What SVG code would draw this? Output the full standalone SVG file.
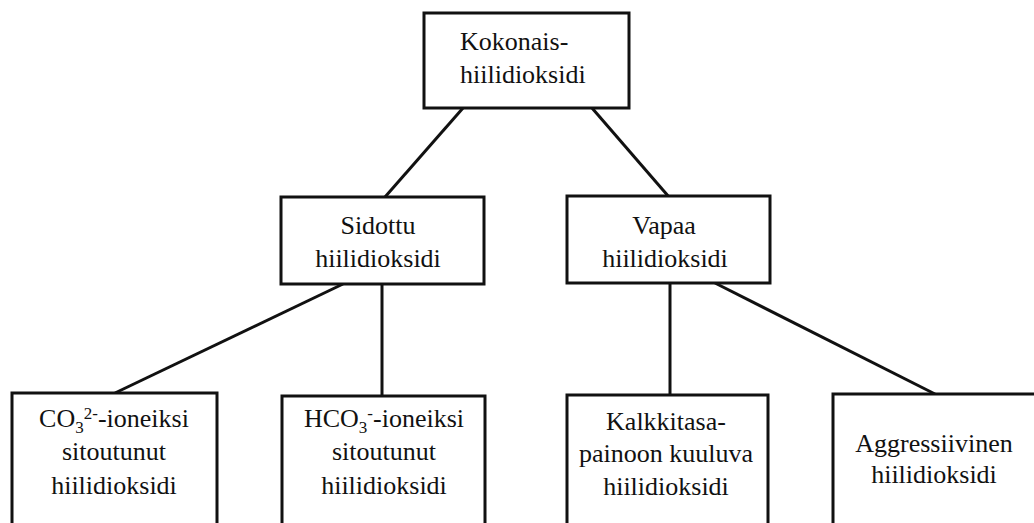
<svg xmlns="http://www.w3.org/2000/svg" width="1034" height="523" viewBox="0 0 1034 523">
<style>
.box{fill:#fff;stroke:#111;stroke-width:3}
.ln{stroke:#111;stroke-width:3;fill:none}
text{font-family:'Liberation Serif','Times New Roman','DejaVu Serif',serif;font-size:26px;fill:#111}
.c{text-anchor:middle}
.sub{font-size:17px}
</style>
<rect width="1034" height="523" fill="#fff"/>
<g id="connectors">
<line class="ln" x1="463" y1="108" x2="385" y2="197"/>
<line class="ln" x1="592" y1="108" x2="669" y2="197"/>
<line class="ln" x1="343" y1="284" x2="115" y2="393"/>
<line class="ln" x1="382" y1="284" x2="382" y2="396"/>
<line class="ln" x1="670" y1="283" x2="670" y2="395"/>
<line class="ln" x1="715" y1="283" x2="935" y2="394"/>
</g>
<g id="n-kokonais" font-family="Liberation Serif, serif">
<rect class="box" x="424" y="13" width="205" height="95"/>
<text x="460" y="50">Kokonais-</text>
<text x="460" y="83">hiilidioksidi</text>
</g>
<g id="n-sidottu">
<rect class="box" x="281" y="197" width="203" height="87"/>
<text class="c" x="378" y="234">Sidottu</text>
<text class="c" x="378" y="267">hiilidioksidi</text>
</g>
<g id="n-vapaa">
<rect class="box" x="567" y="196" width="203" height="87"/>
<text class="c" x="664" y="234">Vapaa</text>
<text class="c" x="665" y="267">hiilidioksidi</text>
</g>
<g id="n-co3">
<rect class="box" x="12" y="393" width="205" height="140"/>
<text class="c" x="114" y="427">CO<tspan class="sub" dy="6">3</tspan><tspan class="sub" dy="-14">2-</tspan><tspan dy="8">-ioneiksi</tspan></text>
<text class="c" x="114" y="460">sitoutunut</text>
<text class="c" x="114" y="494">hiilidioksidi</text>
</g>
<g id="n-hco3">
<rect class="box" x="282" y="396" width="203" height="140"/>
<text class="c" x="384" y="427">HCO<tspan class="sub" dy="6">3</tspan><tspan class="sub" dy="-14">-</tspan><tspan dy="8">-ioneiksi</tspan></text>
<text class="c" x="384" y="460">sitoutunut</text>
<text class="c" x="384" y="494">hiilidioksidi</text>
</g>
<g id="n-kalkki">
<rect class="box" x="567" y="395" width="201" height="140"/>
<text class="c" x="666" y="430">Kalkkitasa-</text>
<text class="c" x="666" y="462">painoon kuuluva</text>
<text class="c" x="666" y="495">hiilidioksidi</text>
</g>
<g id="n-aggr">
<rect class="box" x="833" y="394" width="206" height="140"/>
<text class="c" x="934" y="452">Aggressiivinen</text>
<text class="c" x="934" y="483">hiilidioksidi</text>
</g>
</svg>
